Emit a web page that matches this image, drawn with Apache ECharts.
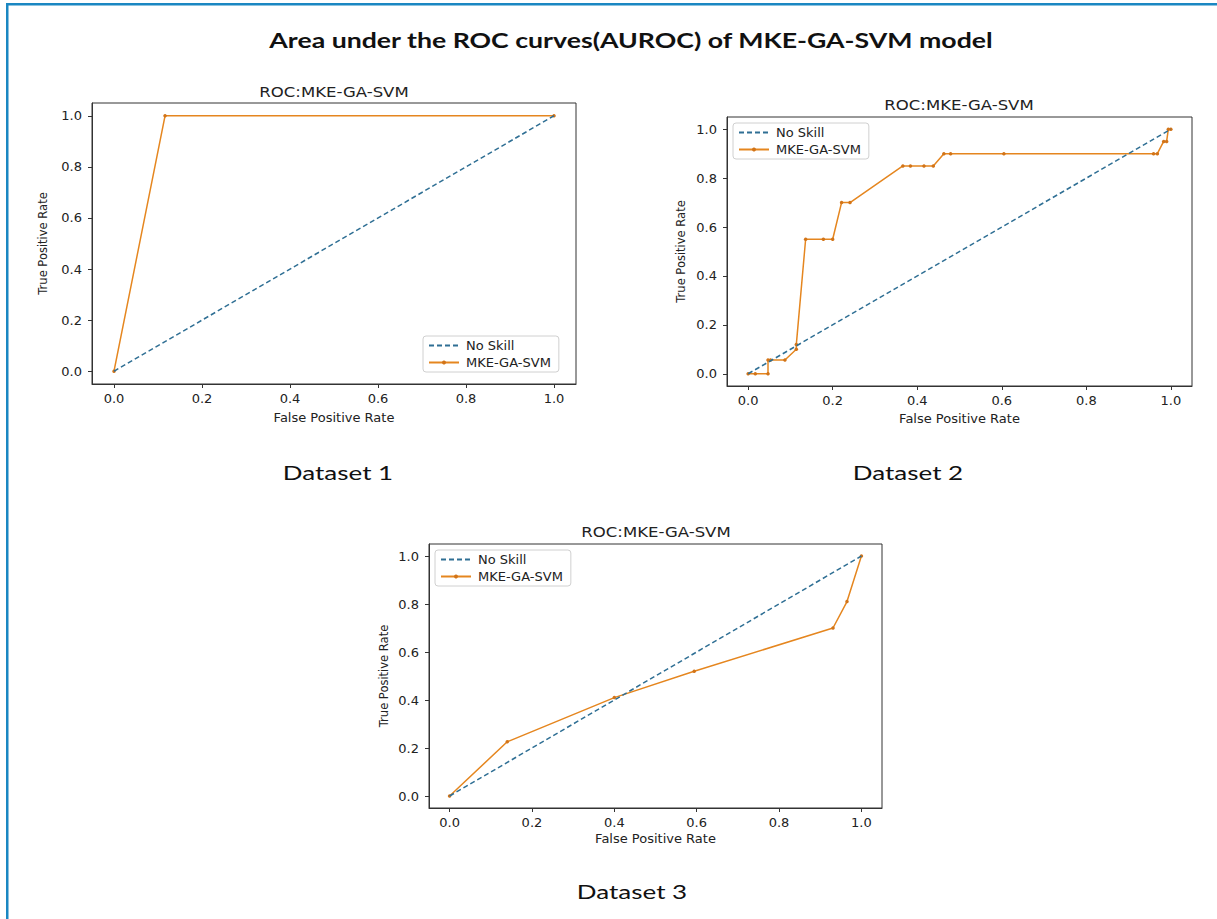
<!DOCTYPE html>
<html>
<head>
<meta charset="utf-8">
<script src="https://cdn.jsdelivr.net/npm/echarts@6/dist/echarts.min.js"></script>
<style>
  html, body { margin: 0; padding: 0; background: #fff; }
  #chart { width: 1217px; height: 919px; }
</style>
</head>
<body>
<div id="chart"></div>
<script>
// ---------- DATA ----------
const mainTitle = 'Area under the ROC curves(AUROC) of MKE-GA-SVM model';
const panelTitle = 'ROC:MKE-GA-SVM';
const datasetLabels = ['Dataset 1', 'Dataset 2', 'Dataset 3'];
const seriesNames = ['No Skill', 'MKE-GA-SVM'];
const xAxisName = 'False Positive Rate';
const yAxisName = 'True Positive Rate';
const tickValues = [0, 0.2, 0.4, 0.6, 0.8, 1.0];
const tickLabels = ['0.0', '0.2', '0.4', '0.6', '0.8', '1.0'];

const noSkillFpr = [0, 1];
const noSkillTpr = [0, 1];

const d1Fpr = [0, 0.116, 1];
const d1Tpr = [0, 1, 1];

const d2Fpr = [0, 0.017, 0.047, 0.047, 0.053, 0.087, 0.114, 0.114, 0.136, 0.178, 0.2, 0.221, 0.241, 0.366, 0.384, 0.416, 0.438, 0.463, 0.479, 0.605, 0.959, 0.968, 0.983, 0.99, 0.994, 1.0];
const d2Tpr = [0, 0, 0, 0.056, 0.056, 0.056, 0.1, 0.12, 0.55, 0.55, 0.55, 0.7, 0.7, 0.85, 0.85, 0.85, 0.85, 0.9, 0.9, 0.9, 0.9, 0.9, 0.95, 0.95, 1.0, 1.0];

const d3Fpr = [0, 0.14, 0.4, 0.594, 0.931, 0.965, 1.0];
const d3Tpr = [0, 0.226, 0.41, 0.52, 0.70, 0.81, 1.0];

// ---------- LAYOUT / STYLE ----------
const pairs = (xs, ys) => xs.map((x, i) => [x, ys[i]]);
const axisColor = '#333';
const textColor = '#222';
const tickFont = 'DejaVu Sans';
const blueDash = '#2f6f94';
const orange = '#e5861f';

const grids = [
  { left: 92, top: 103, width: 484, height: 281 },
  { left: 727, top: 117, width: 465, height: 269 },
  { left: 429, top: 544, width: 453, height: 264 }
];
const xNameGaps = [27, 26, 24];
const yNameGaps = [43, 40, 39];
const panelTitlePos = [[334, 92], [959, 105], [656, 532]];
const datasetPos = [[338, 472], [908, 472], [632, 891]];
const legendPos = [[423, 336], [733, 123], [435, 550]];
const fprSets = [d1Fpr, d2Fpr, d3Fpr];
const tprSets = [d1Tpr, d2Tpr, d3Tpr];

function labelFmt(v) {
  const i = tickValues.findIndex(t => Math.abs(t - v) < 1e-9);
  return i >= 0 ? tickLabels[i] : '';
}

function makeAxis(gi, isX) {
  return {
    type: 'value',
    gridIndex: gi,
    min: -0.05,
    max: 1.05,
    name: isX ? xAxisName : yAxisName,
    nameLocation: 'middle',
    nameGap: isX ? xNameGaps[gi] : yNameGaps[gi],
    nameTextStyle: { fontFamily: tickFont, fontSize: isX ? 13 : 11.5, color: textColor },
    axisLine: { show: true, onZero: false, lineStyle: { color: axisColor, width: 1 } },
    axisTick: { show: true, length: 4, customValues: tickValues, lineStyle: { color: axisColor } },
    axisLabel: { customValues: tickValues, formatter: labelFmt, margin: isX ? 8 : 10,
                 fontFamily: tickFont, fontSize: 13, color: textColor },
    splitLine: { show: false }
  };
}

const xAxes = [], yAxes = [], series = [], legends = [], graphics = [];
grids.forEach((g, i) => {
  g.show = true; g.borderColor = axisColor; g.borderWidth = 1; g.backgroundColor = '#fff';
  xAxes.push(makeAxis(i, true));
  yAxes.push(makeAxis(i, false));
  series.push({
    name: seriesNames[0], type: 'line', xAxisIndex: i, yAxisIndex: i,
    data: pairs(noSkillFpr, noSkillTpr), symbol: 'none',
    lineStyle: { color: blueDash, width: 1.5, type: [5, 3] },
    itemStyle: { color: blueDash }, z: 3
  });
  series.push({
    name: seriesNames[1], type: 'line', xAxisIndex: i, yAxisIndex: i,
    data: pairs(fprSets[i], tprSets[i]), symbol: 'circle', symbolSize: 3.5,
    lineStyle: { color: orange, width: 1.5 },
    itemStyle: { color: '#d27418' }, z: 2
  });
  legends.push({
    data: [
      { name: seriesNames[0], itemStyle: { color: 'rgba(0,0,0,0)', borderWidth: 0 } },
      { name: seriesNames[1] }
    ],
    orient: 'vertical',
    left: legendPos[i][0], top: legendPos[i][1],
    padding: [3, 8, 3, 5], itemGap: 4, itemWidth: 30, itemHeight: 5,
    borderColor: '#d0d0d0', borderWidth: 1, borderRadius: 3, backgroundColor: '#fff',
    textStyle: { fontFamily: tickFont, fontSize: 13, color: textColor, padding: [0, 0, 0, 2] },
    selectedMode: false
  });
  graphics.push({
    type: 'text', x: panelTitlePos[i][0], y: panelTitlePos[i][1], scaleX: 1.18,
    style: { text: panelTitle, fontFamily: tickFont, fontSize: 14, fill: textColor,
             textAlign: 'center', textVerticalAlign: 'middle' }
  });
  graphics.push({
    type: 'text', x: datasetPos[i][0], y: datasetPos[i][1], scaleX: 1.3,
    style: { text: datasetLabels[i], fontFamily: 'Lato', fontSize: 20, fill: '#111',
             textAlign: 'center', textVerticalAlign: 'middle' }
  });
});

graphics.push({
  type: 'text', x: 631, y: 40, scaleX: 1.27,
  style: { text: mainTitle, fontFamily: 'Lato', fontWeight: 'bold', fontSize: 21, fill: '#111',
           textAlign: 'center', textVerticalAlign: 'middle' }
});
// page frame (blue top and left rules)
graphics.push({ type: 'rect', shape: { x: 6, y: 3, width: 1211, height: 2.5 }, style: { fill: '#1a87c2' }, silent: true });
graphics.push({ type: 'rect', shape: { x: 6, y: 3, width: 2.5, height: 916 }, style: { fill: '#1a87c2' }, silent: true });

const chart = echarts.init(document.getElementById('chart'), null, { renderer: 'svg' });
chart.setOption({
  animation: false,
  backgroundColor: '#fff',
  grid: grids,
  xAxis: xAxes,
  yAxis: yAxes,
  legend: legends,
  series: series,
  graphic: graphics
});
</script>
</body>
</html>
